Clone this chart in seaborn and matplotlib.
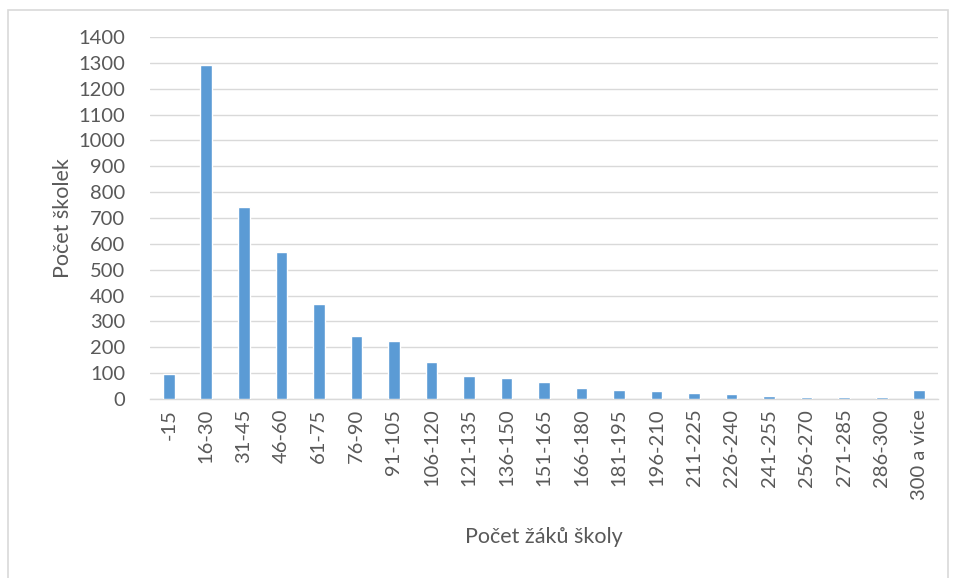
import pandas as pd
import matplotlib
matplotlib.use("Agg")
from matplotlib import pyplot as plt
from matplotlib.patches import Rectangle
import seaborn as sns

# skupiny podle poctu zaku a pocet skolek
kategorie = ["-15", "16-30", "31-45", "46-60", "61-75", "76-90", "91-105",
             "106-120", "121-135", "136-150", "151-165", "166-180", "181-195",
             "196-210", "211-225", "226-240", "241-255", "256-270", "271-285",
             "286-300", "300 a více"]
pocty = [96, 1290, 741, 569, 369, 242, 223, 142, 89, 80, 66, 44, 35, 31, 24,
         20, 11, 6, 9, 8, 34]

df = pd.DataFrame({"skupina": kategorie, "pocet": pocty})

sns.set_theme(style="white")
plt.rcParams["font.family"] = ["Lato", "DejaVu Sans"]

seda = "#595959"
fig = plt.figure(figsize=(9.56, 5.78), dpi=100)
ax = fig.add_axes([150 / 956, 1 - 399 / 578, (938 - 150) / 956, (399 - 37) / 578])

sns.barplot(ax=ax, data=df, x="skupina", y="pocet", color="#5B9BD5",
            saturation=1, width=0.31, zorder=3)

ax.set_ylim(0, 1400)
ax.set_xlim(-0.5, len(kategorie) - 0.5)
ax.set_yticks(range(0, 1401, 100))
ax.grid(axis="y", color="#D9D9D9", linewidth=1, zorder=0)
for s in ["top", "right", "left"]:
    ax.spines[s].set_visible(False)
ax.spines["bottom"].set_color("#D9D9D9")
ax.spines["bottom"].set_linewidth(1)
ax.tick_params(axis="x", rotation=90, labelsize=14.5, colors=seda, length=0, pad=7)
ax.tick_params(axis="y", labelsize=14.5, colors=seda, length=0, pad=18)
ax.set_xlabel("Počet žáků školy", fontsize=15.5, color=seda, labelpad=20)
ax.set_ylabel("Počet školek", fontsize=15.5, color=seda, labelpad=4)

fig.patches.append(Rectangle((8 / 956, -0.1), (948 - 8) / 956, 1.1 - 10 / 578,
                             transform=fig.transFigure, fill=False,
                             edgecolor="#D9D9D9", linewidth=1.2))

fig.savefig("out.png", dpi=100)
